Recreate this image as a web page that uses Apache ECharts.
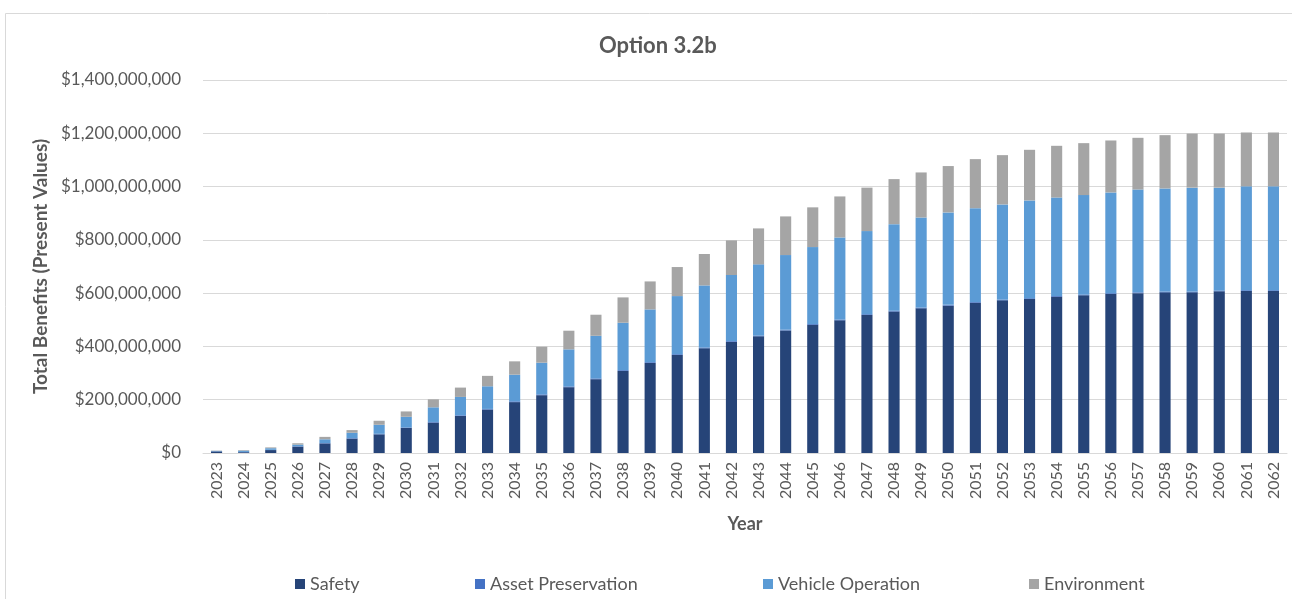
<!DOCTYPE html>
<html>
<head>
<meta charset="utf-8">
<script src="https://cdn.jsdelivr.net/npm/echarts@6/dist/echarts.min.js"></script>
<style>
  html, body { margin: 0; padding: 0; background: #fff; }
  #chart { width: 1292px; height: 599px; }
</style>
</head>
<body>
<div id="chart"></div>
<script>
// values in millions of dollars (present values)
const years = ['2023','2024','2025','2026','2027','2028','2029','2030','2031','2032',
  '2033','2034','2035','2036','2037','2038','2039','2040','2041','2042',
  '2043','2044','2045','2046','2047','2048','2049','2050','2051','2052',
  '2053','2054','2055','2056','2057','2058','2059','2060','2061','2062']
const safety = [6, 3, 11, 24, 36, 54, 70, 94, 114, 139,
  163, 191, 217, 247, 277, 308, 338, 368, 393, 417,
  438, 460, 481, 498, 518, 531, 543, 553, 564, 573,
  578, 586, 592, 597, 600, 603, 603, 607, 608, 608]
const assetPreservation = [0.5, 1, 1, 1.5, 1.5, 2, 2, 2, 2.5, 2.5,
  2.5, 3, 3, 3, 3, 3, 3, 3, 3, 3,
  3, 3, 3, 3, 3, 3, 3, 3, 3, 3,
  3, 3, 3, 3, 3, 3, 3, 3, 3, 3]
const vehicleOperation = [1.5, 5, 6, 6, 14, 20, 34, 40, 55, 69,
  85, 100, 119, 139, 160, 178, 198, 218, 233, 248,
  267, 280, 289, 308, 312, 325, 338, 347, 352, 357,
  367, 370, 373, 378, 386, 387, 390, 386, 390, 390]
const environment = [1, 2, 3, 5, 9, 10, 15, 20, 30, 35,
  39, 50, 60, 70, 79, 95, 105, 109, 118, 130,
  135, 145, 149, 154, 163, 169, 169, 174, 184, 185,
  190, 194, 195, 195, 194, 200, 203, 203, 202, 202]

const textColor = '#595959'
const font = 'Lato, "Open Sans", sans-serif'

const chart = echarts.init(document.getElementById('chart'))

// one legend per entry so each sits where it does in the picture
const legendItem = (name, left) => ({
  data: [name],
  left: left,
  top: 570,
  itemWidth: 10,
  itemHeight: 10,
  itemGap: 0,
  icon: 'rect',
  textStyle: { color: textColor, fontSize: 18, fontFamily: font }
})

const barSeries = (name, data, color) => ({
  name: name,
  type: 'bar',
  stack: 'total',
  barWidth: '41%',
  itemStyle: { color: color },
  data: data
})

chart.setOption({
  animation: false,
  title: {
    text: 'Option 3.2b',
    left: 594,
    top: 30,
    textStyle: { color: textColor, fontSize: 22, fontWeight: 'bold', fontFamily: font }
  },
  graphic: [{
    type: 'rect',
    shape: { x: 5.5, y: 13.5, width: 1300, height: 600 },
    style: { fill: null, stroke: '#d9d9d9', lineWidth: 1 },
    silent: true
  }],
  legend: [
    legendItem('Safety', 290),
    legendItem('Asset Preservation', 470),
    legendItem('Vehicle Operation', 758),
    legendItem('Environment', 1024)
  ],
  grid: { left: 203, right: 5, top: 80, bottom: 146, containLabel: false },
  xAxis: {
    type: 'category',
    data: years,
    name: 'Year',
    nameLocation: 'middle',
    nameGap: 62,
    nameTextStyle: { color: textColor, fontSize: 18, fontWeight: 'bold', fontFamily: font },
    axisLine: { lineStyle: { color: '#d9d9d9' } },
    axisTick: { show: false },
    axisLabel: { rotate: 90, color: textColor, fontSize: 16, fontFamily: font, margin: 9, interval: 0 }
  },
  yAxis: {
    type: 'value',
    min: 0,
    max: 1400,
    interval: 200,
    name: 'Total Benefits (Present Values)',
    nameLocation: 'middle',
    nameGap: 152,
    nameTextStyle: { color: textColor, fontSize: 19, fontWeight: 'bold', fontFamily: font },
    axisLabel: {
      color: textColor,
      fontSize: 17,
      fontFamily: font,
      margin: 22,
      formatter: (v) => v === 0 ? '$0' : '$' + (v * 1e6).toLocaleString('en-US')
    },
    splitLine: { lineStyle: { color: '#d9d9d9' } }
  },
  series: [
    barSeries('Safety', safety, '#264478'),
    barSeries('Asset Preservation', assetPreservation, '#4472c4'),
    barSeries('Vehicle Operation', vehicleOperation, '#5b9bd5'),
    barSeries('Environment', environment, '#a5a5a5')
  ]
})
</script>
</body>
</html>
